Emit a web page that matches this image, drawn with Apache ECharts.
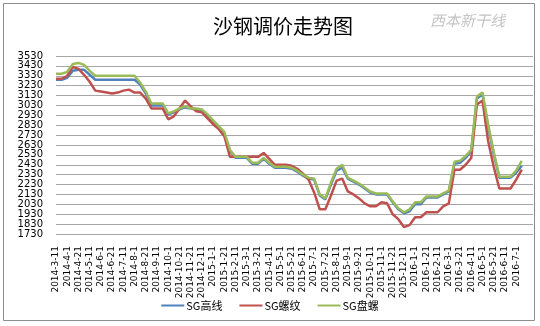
<!DOCTYPE html>
<html>
<head>
<meta charset="utf-8">
<script src="https://cdn.jsdelivr.net/npm/echarts@6/dist/echarts.min.js"></script>
<style>html,body{margin:0;padding:0;background:#fff;}#c{width:540px;height:326px;}</style>
</head>
<body>
<div id="c"></div>
<script>
const title = '沙钢调价走势图';
const seriesNames = ['SG高线', 'SG螺纹', 'SG盘螺'];
const categories = [
'2014-3-11','2014-3-21','2014-4-1','2014-4-11','2014-4-21','2014-5-1','2014-5-11','2014-5-21','2014-6-1','2014-6-11',
'2014-6-21','2014-7-1','2014-7-11','2014-7-21','2014-8-1','2014-8-11','2014-8-21','2014-9-1','2014-9-11','2014-9-21',
'2014-10-1','2014-10-11','2014-10-21','2014-11-11','2014-11-21','2014-12-1','2014-12-11','2014-12-21','2015-1-1','2015-1-11',
'2015-1-21','2015-2-1','2015-2-11','2015-2-21','2015-3-1','2015-3-11','2015-3-21','2015-4-1','2015-4-11','2015-4-21',
'2015-5-1','2015-5-11','2015-5-21','2015-6-1','2015-6-11','2015-6-21','2015-7-1','2015-7-11','2015-7-21','2015-8-1',
'2015-8-11','2015-8-21','2015-9-1','2015-9-11','2015-9-21','2015-10-1','2015-10-11','2015-10-21','2015-11-1','2015-11-11',
'2015-11-21','2015-12-1','2015-12-11','2015-12-21','2016-1-1','2016-1-11','2016-1-21','2016-2-1','2016-2-11','2016-2-21',
'2016-3-1','2016-3-11','2016-3-21','2016-4-1','2016-4-11','2016-4-21','2016-5-1','2016-5-11','2016-5-21','2016-6-1',
'2016-6-11','2016-6-21','2016-7-1','2016-7-11','',''
];
const gaoxian = [
3290,3290,3310,3380,3390,3390,3340,3290,3290,3290,
3290,3290,3290,3290,3290,3240,3150,3030,3030,3030,
2940,2960,2990,3010,3000,2990,2980,2930,2870,2810,
2740,2570,2500,2500,2500,2440,2440,2490,2440,2400,
2400,2400,2390,2360,2320,2290,2280,2120,2080,2230,
2370,2400,2290,2260,2230,2190,2150,2130,2130,2130,
2050,1980,1940,1960,2030,2030,2100,2100,2100,2130,
2160,2440,2450,2500,2570,3100,3140,2820,2540,2300,
2300,2300,2350,2420
];
const luowen = [
3300,3300,3330,3420,3400,3340,3270,3180,3170,3160,
3150,3160,3180,3190,3160,3160,3100,3000,3000,3000,
2890,2920,3000,3080,3020,2970,2960,2900,2840,2790,
2720,2510,2510,2510,2510,2510,2510,2550,2490,2430,
2430,2430,2420,2390,2340,2280,2150,1980,1980,2120,
2270,2290,2160,2130,2090,2040,2010,2010,2050,2040,
1930,1880,1800,1820,1900,1900,1950,1950,1950,2010,
2040,2380,2380,2430,2500,3040,3080,2670,2410,2190,
2190,2190,2280,2380
];
const panluo = [
3350,3350,3370,3450,3460,3440,3380,3330,3330,3330,
3330,3330,3330,3330,3330,3260,3170,3050,3050,3050,
2950,2970,3000,3020,3000,3000,2990,2940,2880,2820,
2760,2580,2510,2510,2510,2450,2450,2500,2450,2410,
2410,2410,2400,2370,2330,2300,2290,2130,2090,2250,
2390,2430,2300,2270,2240,2200,2160,2140,2140,2140,
2060,1990,1950,1980,2050,2050,2110,2110,2110,2140,
2170,2460,2470,2520,2580,3120,3160,2840,2560,2310,
2310,2310,2370,2470
];
const colors = ['#4F81BD', '#C0504D', '#9BBB59'];
const yMin = 1730, yMax = 3530, yStep = 100;

const chart = echarts.init(document.getElementById('c'), null, {renderer: 'canvas'});
const values = [gaoxian, luowen, panluo];
chart.setOption({
  animation: false,
  backgroundColor: '#fff',
  title: {
    text: title, left: 208, top: 11,
    textStyle: {fontSize: 20, fontWeight: 'normal', color: '#000', fontFamily: 'Noto Sans CJK SC'}
  },
  graphic: [
    {type: 'rect', shape: {x: 3.5, y: 3.5, width: 531, height: 317}, style: {fill: 'none', stroke: '#8e8e8e', lineWidth: 1}, silent: true},
    {type: 'text', left: 430, top: 13, style: {text: '西本新干线', fill: '#c4c4c4', font: 'italic 15px "Noto Sans CJK SC"'}, silent: true}
  ],
  legend: {
    data: seriesNames, top: 295, left: 'center',
    icon: 'rect', itemWidth: 23, itemHeight: 2, itemGap: 17,
    textStyle: {fontSize: 11, color: '#000', fontFamily: 'Noto Sans CJK SC', padding: [0,0,0,-3]}
  },
  grid: {left: 56, right: 7, top: 56, bottom: 92, containLabel: false},
  xAxis: {
    type: 'category', data: categories, boundaryGap: false,
    axisLine: {show: false}, axisTick: {show: false},
    axisLabel: {interval: 1, rotate: 90, fontSize: 9, margin: 12, color: '#000', fontFamily: 'DejaVu Sans'},
    splitLine: {show: false}
  },
  yAxis: {
    type: 'value', min: yMin, max: yMax, interval: yStep,
    axisLine: {show: false}, axisTick: {show: false},
    axisLabel: {fontSize: 10, margin: 13, color: '#000', fontFamily: 'DejaVu Sans', formatter: v => String(v)},
    splitLine: {lineStyle: {color: '#a6a6a6', width: 1}}
  },
  series: seriesNames.map((n, k) => ({
    name: n, type: 'line', data: values[k], symbol: 'none', showSymbol: false,
    lineStyle: {width: 2.5, color: colors[k]}, itemStyle: {color: colors[k]}, z: 2 + k
  }))
});
</script>
</body>
</html>
